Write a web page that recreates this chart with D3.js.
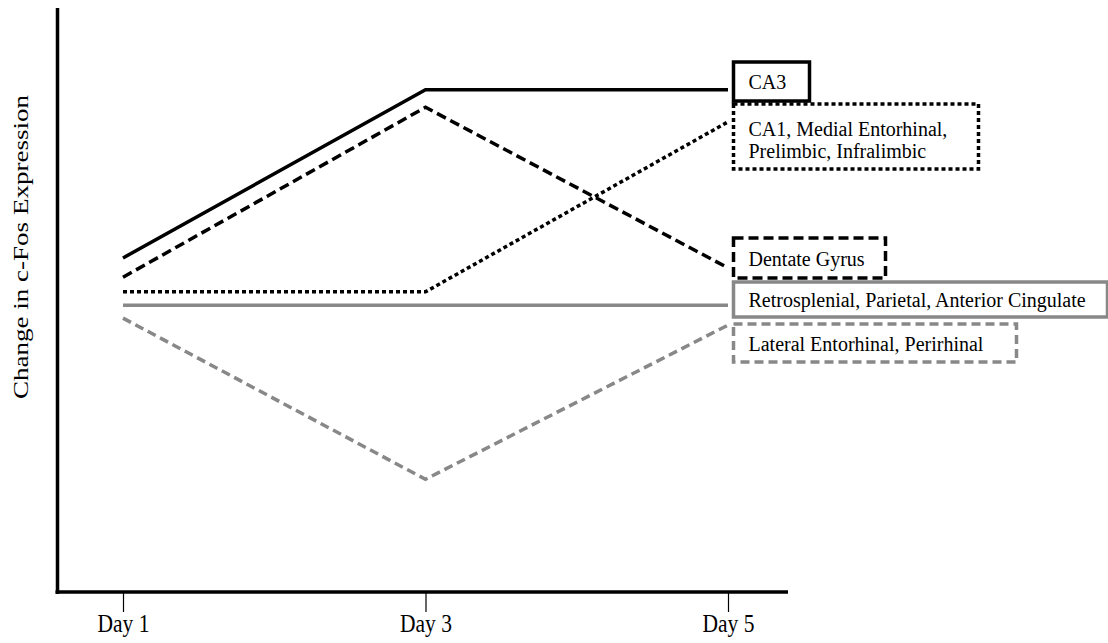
<!DOCTYPE html>
<html>
<head>
<meta charset="utf-8">
<script src="https://cdn.jsdelivr.net/npm/d3@7"></script>
<style>
  body { margin: 0; background: #fff; }
  text { font-family: "Liberation Serif", "Times New Roman", serif; fill: #000; }
</style>
</head>
<body>
<div id="chartDiv"></div>
<script>
// data (relative c-Fos change, arbitrary units)
var days = [1, 3, 5];
var ca3 = [57.2, 86.0, 86.0];
var dentateGyrus = [53.9, 83.0, 55.5];
var ca1Group = [51.4, 51.4, 80.5];
var retroGroup = [49.1, 49.1, 49.1];
var lateralGroup = [46.9, 19.3, 45.7];

var seriesNames = ["CA3", "CA1, Medial Entorhinal,|Prelimbic, Infralimbic", "Dentate Gyrus",
    "Retrosplenial, Parietal, Anterior Cingulate", "Lateral Entorhinal, Perirhinal"];
var seriesValues = [ca3, ca1Group, dentateGyrus, retroGroup, lateralGroup];

var yAxisLabelHeader = "Change in c-Fos Expression";

// look of each series / its box
var styles = [
    { color: "#000", dash: null },
    { color: "#000", dash: "4,3" },
    { color: "#000", dash: "10,5" },
    { color: "#888", dash: null },
    { color: "#888", dash: "9,5" }
];
// label boxes (layout only)
var boxes = [
    { top: 62, h: 39, w: 76 },
    { top: 104, h: 65, w: 245 },
    { top: 238, h: 40, w: 152 },
    { top: 282, h: 35, w: 374 },
    { top: 324, h: 38, w: 283 }
];

var width = 1108;
var height = 643;
var axisX = 57.5;
var axisY = 592;

var x = d3.scaleLinear().domain([1, 5]).range([123, 728]);
var y = d3.scaleLinear().domain([0, 100]).range([axisY, 8]);

var chart = d3.select("#chartDiv").append("svg")
    .attr("width", width)
    .attr("height", height);

// axes
chart.append("line")
    .attr("x1", axisX).attr("x2", axisX)
    .attr("y1", y(100)).attr("y2", axisY + 2)
    .attr("stroke", "#000").attr("stroke-width", 3.5);

chart.append("line")
    .attr("x1", axisX - 2).attr("x2", 788)
    .attr("y1", axisY).attr("y2", axisY)
    .attr("stroke", "#000").attr("stroke-width", 3.5);

var xAxis = d3.axisBottom(x)
    .tickValues(days)
    .tickFormat(function(d) { return "Day " + d; })
    .tickSize(19)
    .tickSizeOuter(0);

var xg = chart.append("g")
    .attr("transform", "translate(0," + (axisY + 1) + ")")
    .call(xAxis);
xg.select(".domain").remove();
xg.selectAll(".tick line").attr("stroke", "#000").attr("stroke-width", 1.2);
// labels in the picture are a little stretched vertically
xg.selectAll(".tick text")
    .attr("y", 0)
    .attr("dy", null)
    .attr("transform", "translate(0,39) scale(1,1.2)")
    .style("font-family", "'Liberation Serif', 'Times New Roman', serif")
    .style("font-size", "21.5px")
    .attr("fill", "#000");

// y axis header label
chart.append("text")
    .attr("text-anchor", "middle")
    .attr("transform", "translate(28, 247) rotate(-90)")
    .attr("textLength", 304)
    .attr("lengthAdjust", "spacingAndGlyphs")
    .style("font-size", "20px")
    .text(yAxisLabelHeader);

// lines
var line = d3.line()
    .x(function(d, i) { return x(days[i]); })
    .y(function(d) { return y(d); });

seriesValues.forEach(function(vals, i) {
    chart.append("path")
        .datum(vals)
        .attr("d", line)
        .attr("fill", "none")
        .attr("stroke", styles[i].color)
        .attr("stroke-width", 3.5)
        .attr("stroke-dasharray", styles[i].dash);
});

// label boxes
var boxLeft = x(5) + 5.5;
seriesNames.forEach(function(name, i) {
    var b = boxes[i];
    var g = chart.append("g");
    g.append("rect")
        .attr("x", boxLeft).attr("y", b.top)
        .attr("width", b.w).attr("height", b.h)
        .attr("fill", "#fff");
    var lines = name.split("|");
    var t = g.append("text")
        .attr("x", boxLeft + 15)
        .style("font-size", "20px");
    lines.forEach(function(l, k) {
        t.append("tspan")
            .attr("x", boxLeft + 15)
            .attr("y", b.top + (lines.length > 1 ? 32 + k * 21.5 : b.h / 2 + 7.5))
            .text(l);
    });
    g.append("rect")
        .attr("x", boxLeft).attr("y", b.top)
        .attr("width", b.w).attr("height", b.h)
        .attr("fill", "none")
        .attr("stroke", styles[i].color)
        .attr("stroke-width", 3.5)
        .attr("stroke-dasharray", styles[i].dash);
});
</script>
</body>
</html>
